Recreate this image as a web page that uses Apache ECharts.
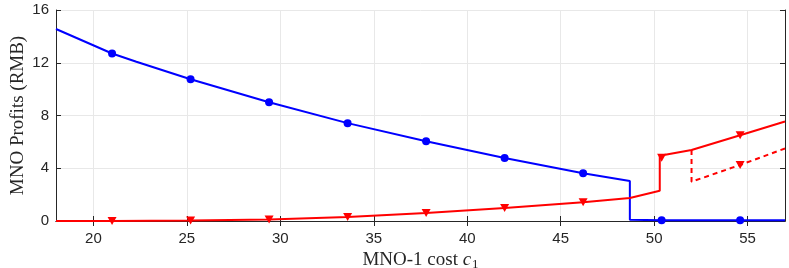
<!DOCTYPE html>
<html><head><meta charset="utf-8">
<script src="https://cdn.jsdelivr.net/npm/echarts@6/dist/echarts.min.js"></script>
<style>html,body{margin:0;padding:0;background:#fff}#c{width:789px;height:268px}</style>
</head><body><div id="c"></div>
<script>
// x ticks and y ticks
const xTicks = [20, 25, 30, 35, 40, 45, 50, 55];
const yTicks = [0, 4, 8, 12, 16];
// MNO-1 (blue) profit curve samples
const blueX = [18, 21, 22.3, 25.2, 29.4, 33.6, 37.8, 42, 46.2, 48.7, 48.7, 50.4, 54.6, 57];
const blueY = [14.56, 12.7, 12.08, 10.75, 9.0, 7.42, 6.05, 4.77, 3.62, 3.03, 0.1, 0.05, 0.05, 0.05];
// marker positions
const markX = [21, 25.2, 29.4, 33.6, 37.8, 42, 46.2, 50.4, 54.6];
const blueMarkY = [12.7, 10.75, 9.0, 7.42, 6.05, 4.77, 3.62, 0.05, 0.05];
// MNO-2 (red) profit curve samples
const redX = [18, 21, 25.2, 29.4, 33.6, 37.8, 42, 46.2, 48.7, 50.3, 50.3, 52, 54.6, 57];
const redY = [0.0, 0.0, 0.03, 0.12, 0.3, 0.6, 0.98, 1.42, 1.75, 2.3, 4.95, 5.38, 6.5, 7.55];
const redMarkY = [0.0, 0.03, 0.12, 0.3, 0.6, 0.98, 1.42, 4.8, 6.5];
// red dashed branch
const dashX = [52, 52, 54.6, 57];
const dashY = [5.38, 2.98, 4.25, 5.5];
const dashMarkX = [54.6];
const dashMarkY = [4.25];

const zip = (a, b) => a.map((v, i) => [v, b[i]]);
const axisColor = '#262626';
const chart = echarts.init(document.getElementById('c'));
const xBase = {
  type: 'value', min: 18, max: 57,
  axisLine: { show: true, lineStyle: { color: axisColor, width: 1 } },
  axisTick: { show: true, inside: true, length: 5, customValues: xTicks, lineStyle: { color: axisColor } },
  splitLine: { show: false }
};
const yBase = {
  type: 'value', min: 0, max: 16, interval: 4,
  axisLine: { show: true, lineStyle: { color: axisColor, width: 1 } },
  axisTick: { show: true, inside: true, length: 5, lineStyle: { color: axisColor } },
  splitLine: { show: false }
};
const serif = 'Liberation Serif';
chart.setOption({
  animation: false,
  grid: { left: 56, right: 4, top: 10, bottom: 47, containLabel: false, outerBoundsMode: 'none' },
  xAxis: [
    Object.assign({}, xBase, {
      position: 'bottom',
      name: '{t|MNO-1 cost }{i|c}{s|1}', nameLocation: 'middle', nameGap: 24,
      nameTextStyle: { rich: {
        t: { fontFamily: serif, fontSize: 19, color: axisColor },
        i: { fontFamily: serif, fontStyle: 'italic', fontSize: 19, color: axisColor },
        s: { fontFamily: serif, fontSize: 13, color: axisColor, verticalAlign: 'bottom', padding: [9, 0, 0, 1] }
      } },
      axisLabel: { show: true, customValues: xTicks, fontFamily: 'Liberation Sans', fontSize: 15, color: axisColor, margin: 10 },
      splitLine: { show: true, lineStyle: { color: '#e8e8e8', width: 1 } }
    }),
    Object.assign({}, xBase, { position: 'top', axisLabel: { show: false } })
  ],
  yAxis: [
    Object.assign({}, yBase, {
      position: 'left',
      name: 'MNO Profits (RMB)', nameLocation: 'middle', nameGap: 28, nameMoveOverlap: false,
      nameTextStyle: { fontFamily: serif, fontSize: 19, color: axisColor },
      axisLabel: { show: true, fontFamily: 'Liberation Sans', fontSize: 15, color: axisColor, margin: 7 },
      splitLine: { show: true, lineStyle: { color: '#e8e8e8', width: 1 } }
    }),
    Object.assign({}, yBase, { position: 'right', axisLabel: { show: false } })
  ],
  series: [
    { type: 'line', data: zip(blueX, blueY), showSymbol: false, lineStyle: { color: '#0000ff', width: 2 }, z: 3 },
    { type: 'scatter', data: zip(markX, blueMarkY), symbol: 'circle', symbolSize: 8, itemStyle: { color: '#0000ff', opacity: 1 }, z: 4 },
    { type: 'line', data: zip(redX, redY), showSymbol: false, lineStyle: { color: '#ff0000', width: 2 }, z: 3 },
    { type: 'scatter', data: zip(markX, redMarkY), symbol: 'triangle', symbolRotate: 180, symbolSize: [9, 8], itemStyle: { color: '#ff0000', opacity: 1 }, z: 4 },
    { type: 'line', data: zip(dashX, dashY), showSymbol: false, lineStyle: { color: '#ff0000', width: 2, type: [5, 4] }, z: 3 },
    { type: 'scatter', data: zip(dashMarkX, dashMarkY), symbol: 'triangle', symbolRotate: 180, symbolSize: [9, 8], itemStyle: { color: '#ff0000', opacity: 1 }, z: 4 }
  ]
});
</script></body></html>
